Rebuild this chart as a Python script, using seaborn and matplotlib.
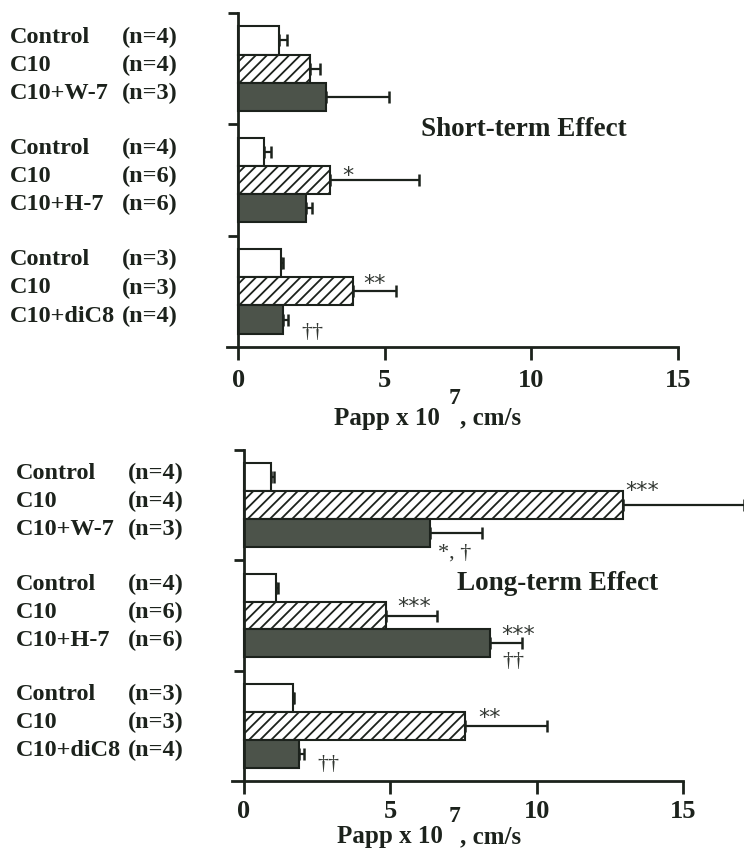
import matplotlib
matplotlib.use("Agg")
import matplotlib.pyplot as plt
import seaborn as sns
import pandas as pd
from matplotlib.transforms import blended_transform_factory

# ---------------- data ----------------
groups = ["W-7", "H-7", "diC8"]
treatments = ["Control", "C10", "C10+inhibitor"]
row_names = [["Control", "C10", "C10+W-7"],
             ["Control", "C10", "C10+H-7"],
             ["Control", "C10", "C10+diC8"]]
row_n = [["(n=4)", "(n=4)", "(n=3)"],
         ["(n=4)", "(n=6)", "(n=6)"],
         ["(n=3)", "(n=3)", "(n=4)"]]

short_control = [1.38, 0.87, 1.46]
short_c10 = [2.46, 3.14, 3.92]
short_inhib = [2.98, 2.30, 1.54]
short_control_sem = [0.27, 0.25, 0.08]
short_c10_sem = [0.32, 3.04, 1.45]
short_inhib_sem = [2.15, 0.21, 0.14]

long_control = [0.94, 1.10, 1.67]
long_c10 = [12.95, 4.87, 7.55]
long_inhib = [6.35, 8.41, 1.88]
long_control_sem = [0.08, 0.08, 0.05]
long_c10_sem = [4.15, 1.72, 2.81]
long_inhib_sem = [1.77, 1.09, 0.17]

# annotations: (group index, treatment index, text, x value, y offset)
short_marks = [(1, 1, "*", 3.75, -0.04),
               (2, 1, "**", 4.64, -0.07),
               (2, 2, "††", 2.54, 0.12)]
long_marks = [(0, 1, "***", 13.6, -0.13),
              (0, 2, "*, †", 7.2, 0.18),
              (1, 1, "***", 5.81, -0.08),
              (1, 2, "***", 9.38, -0.08),
              (1, 2, "††", 9.2, 0.16),
              (2, 1, "**", 8.4, -0.07),
              (2, 2, "††", 2.89, 0.10)]

xticks = [0, 5, 10, 15]

# ---------------- style ----------------
sns.set_theme(style="white")
plt.rcParams["font.family"] = ["Liberation Serif", "DejaVu Serif"]
plt.rcParams["font.weight"] = "bold"
plt.rcParams["hatch.linewidth"] = 1.3

INK = "#1c221c"
DARK = "#4b5548"
W, H = 744, 856
fig = plt.figure(figsize=(W / 100, H / 100), dpi=100)


def frame(df_vals, df_sems):
    rows = []
    for t, vals, sems in zip(treatments, df_vals, df_sems):
        for g, v, s in zip(groups, vals, sems):
            rows.append({"group": g, "treatment": t, "value": v, "sem": s})
    return pd.DataFrame(rows)


def panel(rect, df, marks, title, title_xy, label_x, lab_y, sup_y,
          label_name_x, label_n_x, tick_pad):
    ax = fig.add_axes(rect)
    sns.barplot(data=df, x="value", y="group", hue="treatment", orient="h",
                order=groups, hue_order=treatments,
                palette={"Control": "white", "C10": "white", "C10+inhibitor": DARK},
                width=0.76, errorbar=None, edgecolor=INK, linewidth=1.5,
                legend=False, ax=ax)
    ax.set_ylim(2.5, -0.5)
    ax.set_xlim(-0.4, 15)
    centers = {}
    bar_containers = list(ax.containers)
    for ti, cont in enumerate(bar_containers):
        t = treatments[ti]
        sub = df[df.treatment == t].set_index("group")
        for gi, p in enumerate(cont.patches):
            if ti == 1:
                p.set_hatch("///")
            yc = p.get_y() + p.get_height() / 2
            xv = p.get_width()
            centers[(gi, ti)] = yc
            eb = ax.errorbar(xv, yc, xerr=[[0], [sub.loc[groups[gi], "sem"]]],
                             fmt="none", ecolor=INK, elinewidth=1.6,
                             capsize=4, capthick=1.8)
            for art in eb.get_children():
                art.set_clip_on(False)
    # spines / ticks
    for s in ["top", "right"]:
        ax.spines[s].set_visible(False)
    ax.spines["left"].set_position(("data", 0))
    for s in ["left", "bottom"]:
        ax.spines[s].set_color(INK)
        ax.spines[s].set_linewidth(2)
    ax.set_yticks([-0.5, 0.5, 1.5])
    ax.set_yticklabels([])
    ax.tick_params(axis="y", left=True, length=7, width=2, color=INK)
    ax.set_xticks(xticks)
    ax.set_xticklabels([str(v) for v in xticks])
    ax.tick_params(axis="x", bottom=True, length=9, width=2, color=INK,
                   labelsize=19, pad=tick_pad, labelcolor=INK)
    for lbl in ax.get_xticklabels():
        lbl.set_fontweight("bold")
    ax.set_xlabel("")
    ax.set_ylabel("")
    # row labels
    tr = blended_transform_factory(fig.transFigure, ax.transData)
    for gi in range(3):
        for ti in range(3):
            yc = centers[(gi, ti)] - 0.03
            ax.text(label_name_x / W, yc, row_names[gi][ti], transform=tr,
                    ha="left", va="center", fontsize=17.5, fontweight="bold",
                    color=INK, clip_on=False)
            ax.text(label_n_x / W, yc, row_n[gi][ti], transform=tr,
                    ha="left", va="center", fontsize=17.5, fontweight="bold",
                    color=INK, clip_on=False)
    # significance marks
    for gi, ti, txt, xv, dy in marks:
        fam = ["DejaVu Sans"] if "*" in txt and "†" not in txt else ["Liberation Serif", "DejaVu Sans"]
        ax.text(xv, centers[(gi, ti)] + dy, txt, ha="center", va="center",
                fontsize=16, family=fam,
                fontweight="normal", color="#333833", clip_on=False)
    # title
    fig.text(title_xy[0] / W, 1 - title_xy[1] / H, title, ha="left", va="center",
             fontsize=19.5, fontweight="bold", color=INK)
    # x label with superscript
    fig.text(label_x[0] / W, 1 - lab_y / H, "Papp x 10", ha="right", va="center",
             fontsize=18, fontweight="bold", color=INK)
    fig.text(label_x[1] / W, 1 - sup_y / H, "7", ha="center", va="center",
             fontsize=17, fontweight="bold", color=INK)
    fig.text(label_x[2] / W, 1 - lab_y / H, ", cm/s", ha="left", va="center",
             fontsize=18, fontweight="bold", color=INK)
    return ax


df_short = frame([short_control, short_c10, short_inhib],
                 [short_control_sem, short_c10_sem, short_inhib_sem])
df_long = frame([long_control, long_c10, long_inhib],
                [long_control_sem, long_c10_sem, long_inhib_sem])

# top panel: x=0 at 238px, 15 at 678px ; y from 13 to 347 px
x0, x15 = 238.3, 678.0
unit = (x15 - x0) / 15
left = x0 - 0.4 * unit
panel([left / W, 1 - 347 / H, (x15 - left) / W, (347 - 13) / H],
      df_short, short_marks, "Short-term Effect", (421, 130),
      (440, 455, 460), 418, 398, 10, 122, 7)

x0, x15 = 243.8, 683.0
unit = (x15 - x0) / 15
left = x0 - 0.4 * unit
panel([left / W, 1 - 781 / H, (x15 - left) / W, (781 - 450) / H],
      df_long, long_marks, "Long-term Effect", (457, 584),
      (443, 455, 460), 837, 817, 16, 128, 5)

fig.savefig("out.png", dpi=100)
